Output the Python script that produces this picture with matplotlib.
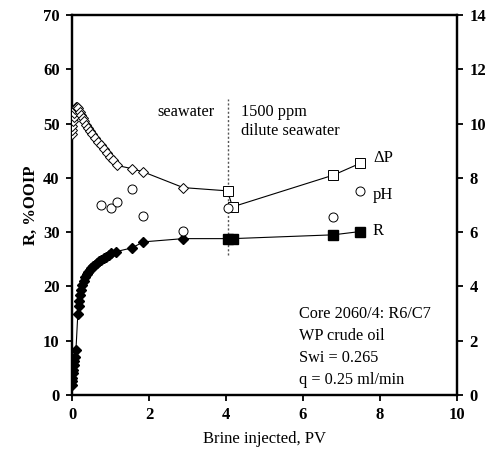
import matplotlib
matplotlib.use("Agg")
import matplotlib.pyplot as plt

# recovery R (%OOIP), seawater flood
pv_sw = [0.0, 0.0, 0.01, 0.02, 0.03, 0.04, 0.06, 0.08, 0.10, 0.15, 0.17, 0.19, 0.21, 0.24,
         0.27, 0.30, 0.34, 0.38, 0.42, 0.46, 0.50, 0.55, 0.60, 0.65, 0.70, 0.76, 0.82, 0.88,
         0.95, 1.02, 1.14, 1.56, 1.85, 2.89, 4.04]
r_sw = [1.8, 2.5, 3.2, 4.0, 4.6, 5.5, 6.3, 7.0, 8.2, 15.0, 16.3, 17.4, 18.5, 19.4,
        20.3, 21.0, 21.7, 22.2, 22.6, 23.0, 23.3, 23.7, 24.0, 24.3, 24.6, 24.9, 25.2, 25.5,
        25.8, 26.1, 26.4, 27.1, 28.2, 28.8, 28.8]
# recovery, dilute seawater
pv_lsw = [4.04, 4.17, 6.79, 7.48]
r_lsw = [28.8, 28.8, 29.5, 30.1]

# differential pressure (bar), right axis
pv_dp_sw = [0.0, 0.0, 0.01, 0.02, 0.04, 0.06, 0.08, 0.10, 0.13, 0.16, 0.20, 0.24, 0.28, 0.32,
            0.37, 0.42, 0.47, 0.53, 0.60, 0.67, 0.74, 0.82, 0.90, 0.98, 1.06, 1.16, 1.55, 1.85,
            2.89, 4.04]
dp_sw = [9.6, 9.76, 9.9, 10.1, 10.26, 10.4, 10.52, 10.6, 10.62, 10.56, 10.44, 10.32, 10.2, 10.08,
         9.96, 9.84, 9.72, 9.6, 9.46, 9.32, 9.2, 9.06, 8.92, 8.78, 8.64, 8.46, 8.34, 8.22,
         7.64, 7.52]
pv_dp_lsw = [4.04, 4.17, 6.79, 7.48]
dp_lsw = [7.52, 6.93, 8.1, 8.53]

# effluent pH, right axis
pv_ph = [0.75, 1.01, 1.16, 1.55, 1.85, 2.89, 4.04, 6.79, 7.48]
ph = [7.0, 6.9, 7.1, 7.6, 6.6, 6.05, 6.9, 6.54, 7.5]

plt.rcParams['font.family'] = ['Liberation Serif', 'DejaVu Serif']

fig = plt.figure(figsize=(4.87, 4.55), dpi=100)
ax = fig.add_axes([0.148, 0.132, 0.790, 0.835])
ax2 = ax.twinx()

ax.plot(pv_sw, r_sw, '-', color='black', lw=0.8, marker='D', ms=5, mfc='black', mec='black', zorder=3)
ax.plot([pv_sw[-1]] + pv_lsw, [r_sw[-1]] + r_lsw, '-', color='black', lw=0.8, zorder=3)
ax.plot(pv_lsw, r_lsw, 's', color='black', ms=6.5, zorder=4)

ax2.plot(pv_dp_sw, dp_sw, '-', color='black', lw=0.8, marker='D', ms=5, mfc='white', mec='black', mew=0.7, zorder=3)
ax2.plot([pv_dp_sw[-1]] + pv_dp_lsw, [dp_sw[-1]] + dp_lsw, '-', color='black', lw=0.8, zorder=3)
ax2.plot(pv_dp_lsw, dp_lsw, 's', ms=6.5, mfc='white', mec='black', mew=0.7, zorder=4)
ax2.plot(pv_ph, ph, 'o', ms=6.5, mfc='white', mec='black', mew=0.7, linestyle='none', zorder=4)

ax.axvline(4.04, ymin=25.8 / 70, ymax=54.5 / 70, color='#555555', ls=(0, (1.5, 1.5)), lw=1.0)

ax.set_xlim(0, 10)
ax.set_ylim(0, 70)
ax2.set_ylim(0, 14)
ax.set_xticks(range(0, 11, 2))
ax.set_yticks(range(0, 71, 10))
ax2.set_yticks(range(0, 15, 2))

for a in (ax, ax2):
    for s in a.spines.values():
        s.set_linewidth(1.6)
    a.tick_params(direction='out', length=4, width=1.3, labelsize=12, pad=5)
    for lab in a.get_xticklabels() + a.get_yticklabels():
        lab.set_fontweight('bold')
ax.set_xlabel('Brine injected, PV', fontsize=12)
ax.xaxis.set_label_coords(0.5, -0.095)
ax.set_ylabel('R, %OOIP', fontsize=12, fontweight='bold')
ax.yaxis.set_label_coords(-0.085, 0.5)
fig.text(-0.014, 0.55, 'pH, ΔP (bar)', rotation=90, ha='center', va='center', fontsize=12)

ax.text(3.7, 52.1, 'seawater', ha='right', va='center', fontsize=11.7)
ax.text(4.4, 50.3, '1500 ppm\ndilute seawater', ha='left', va='center', fontsize=11.7, linespacing=1.25)

ax2.text(7.82, 8.72, 'ΔP', ha='left', va='center', fontsize=12)
ax2.text(7.82, 7.35, 'pH', ha='left', va='center', fontsize=12)
ax2.text(7.82, 6.05, 'R', ha='left', va='center', fontsize=12)

ax.text(5.9, 8.9, 'Core 2060/4: R6/C7\nWP crude oil\nSwi = 0.265\nq = 0.25 ml/min',
        ha='left', va='center', fontsize=11.7, linespacing=1.5)

fig.savefig('out.png', dpi=100)
